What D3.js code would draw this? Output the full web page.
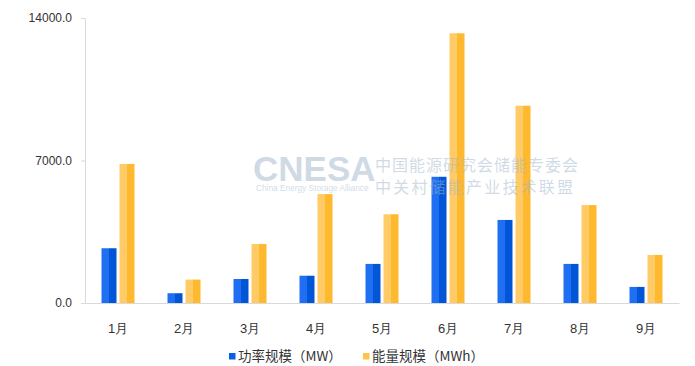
<!DOCTYPE html>
<html>
<head>
<meta charset="utf-8">
<script src="https://cdn.jsdelivr.net/npm/d3@7"></script>
<style>
  body { margin: 0; background: #fff; }
  svg { display: block; font-family: "Noto Sans CJK SC", "Noto Sans", sans-serif; }
</style>
</head>
<body>
<div id="chart"></div>
<script>
// data
var months = ["1月", "2月", "3月", "4月", "5月", "6月", "7月", "8月", "9月"];
var power = [2690, 480, 1180, 1340, 1920, 6200, 4080, 1920, 790];      // MW
var energy = [6830, 1150, 2900, 5350, 4360, 13250, 9690, 4810, 2360];  // MWh
var yTicks = [0, 7000, 14000];
var seriesNames = ["功率规模（MW）", "能量规模（MWh）"];

var width = 695,
    height = 366;
var plotLeft = 85, plotRight = 679, plotTop = 18, plotBottom = 303;

var svg = d3.select("#chart").append("svg")
    .attr("width", width)
    .attr("height", height);

// two-tone bar fills
var defs = svg.append("defs");
function twoTone(id, c1, c2) {
    var g = defs.append("linearGradient").attr("id", id)
        .attr("x1", "0%").attr("x2", "100%").attr("y1", "0%").attr("y2", "0%");
    g.append("stop").attr("offset", "0%").attr("stop-color", c1);
    g.append("stop").attr("offset", "50%").attr("stop-color", c1);
    g.append("stop").attr("offset", "50%").attr("stop-color", c2);
    g.append("stop").attr("offset", "100%").attr("stop-color", c2);
}
twoTone("gBlue", "#1f6ff2", "#0056d6");
twoTone("gYellow", "#ffcb66", "#ffb92e");

var x = d3.scaleBand().domain(months).range([plotLeft, plotRight]);
var y = d3.scaleLinear().domain([0, 14000]).range([plotBottom, plotTop]);

// axes
var yAxis = d3.axisLeft(y).tickValues(yTicks).tickSize(4).tickPadding(9)
    .tickFormat(d3.format(".1f"));
var gy = svg.append("g").attr("transform", "translate(" + plotLeft + ",0)").call(yAxis);
gy.select(".domain").attr("stroke", "#d9d9d9");
gy.selectAll(".tick line").attr("stroke", "#d9d9d9");
gy.selectAll(".tick text").attr("fill", "#333").attr("font-size", 12)
    .attr("font-family", "Liberation Sans, Arial, sans-serif");

var xAxis = d3.axisBottom(x).tickSize(0).tickPadding(21);
var gx = svg.append("g").attr("transform", "translate(0," + plotBottom + ")").call(xAxis);
gx.select(".domain").attr("stroke", "#d9d9d9");
gx.selectAll(".tick text").attr("fill", "#333").attr("font-size", 13);

// bars
var barW = 15, gap = 3;
var groups = svg.append("g").selectAll("g")
    .data(months)
    .enter()
    .append("g")
    .attr("transform", function(d) { return "translate(" + (x(d) + x.bandwidth() / 2) + ",0)"; });

groups.append("rect")
    .attr("x", -barW - gap / 2)
    .attr("width", barW)
    .attr("y", function(d, i) { return y(power[i]); })
    .attr("height", function(d, i) { return plotBottom - y(power[i]); })
    .attr("fill", "url(#gBlue)");

groups.append("rect")
    .attr("x", gap / 2)
    .attr("width", barW)
    .attr("y", function(d, i) { return y(energy[i]); })
    .attr("height", function(d, i) { return plotBottom - y(energy[i]); })
    .attr("fill", "url(#gYellow)");

// watermark, semi transparent over the bars
var wm = svg.append("g").attr("fill", "#9fb6cc").attr("fill-opacity", 0.5);
wm.append("text").attr("x", 253).attr("y", 181)
    .attr("font-family", "Liberation Sans, Arial, sans-serif")
    .attr("font-weight", "bold").attr("font-size", 35).text("CNESA");
wm.append("text").attr("x", 256).attr("y", 191)
    .attr("font-family", "Liberation Sans, Arial, sans-serif")
    .attr("font-size", 8.3).text("China Energy Storage Alliance");
wm.append("text").attr("x", 375).attr("y", 171)
    .attr("font-size", 16).attr("letter-spacing", 1).text("中国能源研究会储能专委会");
wm.append("text").attr("x", 375).attr("y", 193)
    .attr("font-size", 16).attr("letter-spacing", 2.2).text("中关村储能产业技术联盟");

// legend
var legend = svg.append("g").attr("transform", "translate(229,353)");
var colors = ["#0a5ee6", "#ffc24a"];
var offsets = [0, 134];
seriesNames.forEach(function(name, i) {
    var g = legend.append("g").attr("transform", "translate(" + offsets[i] + ",0)");
    g.append("rect").attr("width", 6.5).attr("height", 6.5).attr("fill", colors[i]);
    g.append("text").attr("x", 9).attr("y", 8).attr("font-size", 13.5)
        .attr("fill", "#333").text(name);
});
</script>
</body>
</html>
